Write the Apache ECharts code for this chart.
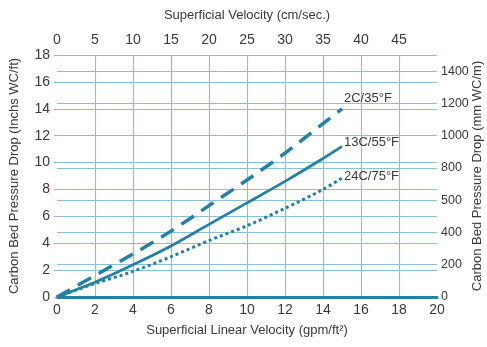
<!DOCTYPE html>
<html>
<head>
<meta charset="utf-8">
<script src="https://cdn.jsdelivr.net/npm/echarts@6/dist/echarts.min.js"></script>
<style>
  html, body { margin: 0; padding: 0; background: #ffffff; }
  #chart { width: 487px; height: 347px; }
</style>
</head>
<body>
<div id="chart"></div>
<script>
// Superficial linear velocity (gpm/ft²) sample points
const velocity = [0, 2, 4, 6, 8, 10, 12, 14, 15];
// Pressure drop (inches WC/ft) for each bed temperature
const drop35F = [0, 1.6, 3.2, 4.9, 6.8, 8.7, 10.7, 12.9, 14.0];
const drop55F = [0, 1.1, 2.4, 3.8, 5.4, 7.0, 8.6, 10.3, 11.2];
const drop75F = [0, 1.0, 1.9, 3.0, 4.2, 5.3, 6.6, 8.0, 8.85];
const seriesNames = ['2C/35°F', '13C/55°F', '24C/75°F'];
// Right-hand axis ticks (mm WC/m) and their printed labels
const rightTicks = [0, 200, 400, 600, 800, 1000, 1200, 1400];
const rightLabels = ['0', '200', '400', '500', '800', '1000', '1200', '1400'];
// Top axis labels (cm/sec.)
const topTicks = [0, 5, 10, 15, 20, 25, 30, 35, 40, 45];

const teal = '#2580a6';
const gridBlue = '#8cc0d6';
const textCol = '#3a3a3a';
const font = "'Liberation Sans Narrow', 'Liberation Sans', sans-serif";

function pts(ys) { return velocity.map((x, i) => [x, ys[i]]); }

const chart = echarts.init(document.getElementById('chart'), null, { renderer: 'canvas' });
chart.setOption({
  animation: false,
  backgroundColor: '#ffffff',
  textStyle: { fontFamily: font, color: textCol },
  grid: { left: 57, right: 50, top: 55, bottom: 50, containLabel: false, outerBoundsMode: 'none' },
  xAxis: [
    {
      type: 'value', position: 'bottom', min: 0, max: 20, interval: 2,
      name: 'Superficial Linear Velocity (gpm/ft²)', nameLocation: 'middle', nameGap: 27,
      nameTextStyle: { fontFamily: font, fontSize: 13, color: textCol },
      axisLine: { show: true, lineStyle: { color: teal, width: 3 } },
      axisTick: { show: false },
      axisLabel: { fontFamily: font, fontSize: 14, color: textCol, margin: 6 },
      splitLine: { show: true, showMinLine: false, showMaxLine: false, lineStyle: { color: gridBlue, width: 1.2 } }
    },
    {
      type: 'value', position: 'top', min: 0, max: 50, interval: 5,
      name: 'Superficial Velocity (cm/sec.)', nameLocation: 'middle', nameGap: 33,
      nameTextStyle: { fontFamily: font, fontSize: 13, color: textCol },
      axisLine: { show: true, lineStyle: { color: teal, width: 2 } },
      axisTick: { show: false },
      axisLabel: {
        fontFamily: font, fontSize: 14, color: textCol, margin: 8,
        formatter: v => (topTicks.indexOf(v) >= 0 ? String(v) : '')
      },
      splitLine: { show: false }
    }
  ],
  yAxis: [
    {
      type: 'value', position: 'left', min: 0, max: 18, interval: 2,
      name: 'Carbon Bed Pressure Drop (Inchs WC/ft)', nameLocation: 'middle', nameGap: 36,
      nameRotate: 90,
      nameTextStyle: { fontFamily: font, fontSize: 13, color: textCol },
      axisLine: { show: false },
      axisTick: { show: true, length: 3, lineStyle: { color: gridBlue, width: 1.2 } },
      axisLabel: { fontFamily: font, fontSize: 14, color: textCol, margin: 7 },
      splitLine: { show: true, lineStyle: { color: gridBlue, width: 1.2 } }
    },
    {
      type: 'value', position: 'right', min: 0, max: 1500, interval: 200,
      name: 'Carbon Bed Pressure Drop (mm WC/m)', nameLocation: 'middle', nameGap: 34,
      nameRotate: 90, nameMoveOverlap: false,
      nameTextStyle: { fontFamily: font, fontSize: 13, color: textCol },
      axisLine: { show: false },
      axisTick: { show: false },
      axisLabel: {
        fontFamily: font, fontSize: 12.5, color: textCol, margin: 4,
        formatter: v => { const i = rightTicks.indexOf(v); return i >= 0 ? rightLabels[i] : ''; }
      },
      splitLine: { show: true, lineStyle: { color: gridBlue, width: 1.2 } }
    }
  ],
  series: [
    {
      name: seriesNames[0], type: 'line', data: pts(drop35F), smooth: 0.3,
      symbol: 'none', xAxisIndex: 0, yAxisIndex: 0,
      lineStyle: { color: teal, width: 3.5, type: [15, 9] },
      endLabel: { show: true, formatter: '{a}', distance: 2, fontFamily: font, fontSize: 13, color: textCol, offset: [0, -10] }
    },
    {
      name: seriesNames[1], type: 'line', data: pts(drop55F), smooth: 0.3,
      symbol: 'none', xAxisIndex: 0, yAxisIndex: 0,
      lineStyle: { color: teal, width: 2.8, type: 'solid' },
      endLabel: { show: true, formatter: '{a}', distance: 2, fontFamily: font, fontSize: 13, color: textCol, offset: [0, -4] }
    },
    {
      name: seriesNames[2], type: 'line', data: pts(drop75F), smooth: 0.3,
      symbol: 'none', xAxisIndex: 0, yAxisIndex: 0,
      lineStyle: { color: teal, width: 3, type: [3, 3] },
      endLabel: { show: true, formatter: '{a}', distance: 2, fontFamily: font, fontSize: 13, color: textCol, offset: [0, -2] }
    }
  ]
});
</script>
</body>
</html>
